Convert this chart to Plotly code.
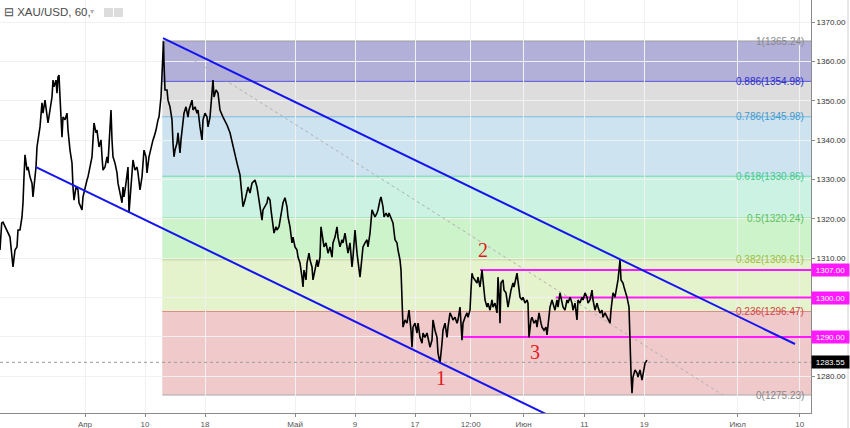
import plotly.graph_objects as go

# ---------------- data ----------------
# x = trading-day index (0 = 2 Apr), y = XAU/USD price
days = [-8.5,-8.33,-8.2,-7.8,-7.5,-7.3,-7.2,-7.0,-6.8,-6.7,-6.5,-6.3,-6.2,-6.1,-6.0,-5.8,-5.7,-5.5,-5.3,-5.2,
        -5.0,-4.9,-4.8,-4.7,-4.5,-4.3,-4.2,-4.0,-3.8,-3.7,-3.5,-3.3,-3.2,-3.1,-2.9,-2.8,-2.7,-2.6,-2.5,-2.4,
        -2.3,-2.2,-2.0,-1.8,-1.7,-1.5,-1.3,-1.2,-1.1,-0.9,-0.7,-0.6,-0.3,-0.2,0.0,0.2,0.3,0.5,0.7,0.8,
        0.9,1.1,1.2,1.4,1.6,1.7,1.8,2.0,2.2,2.3,2.5,2.6,2.7,2.8,3.0,3.2,3.3,3.5,3.7,3.8,
        3.9,4.1,4.3,4.4,4.5,4.7,4.8,5.0,5.2,5.3,5.5,5.7,5.9,6.1,6.2,6.4,6.6,6.8,6.9,7.1,
        7.3,7.4,7.6,7.7,7.8,7.85,7.9,8.0,8.2,8.3,8.5,8.7,8.8,8.9,9.0,9.2,9.3,9.5,9.6,9.8,
        9.9,10.1,10.3,10.4,10.7,10.8,11.0,11.2,11.3,11.5,11.7,11.8,12.0,12.2,12.3,12.5,12.7,12.8,12.9,13.1,
        13.3,13.5,13.8,14.2,14.5,14.8,15.2,15.5,15.7,15.8,16.0,16.2,16.3,16.5,16.7,17.0,17.2,17.4,17.7,17.8,
        18.0,18.2,18.3,18.5,18.6,18.8,18.9,19.1,19.2,19.4,19.6,19.8,20.0,20.2,20.3,20.5,20.7,20.8,21.0,21.2,
        21.3,21.5,21.7,21.8,21.9,22.1,22.2,22.4,22.5,22.7,22.8,23.0,23.2,23.3,23.5,23.6,23.8,23.9,24.1,24.3,
        24.5,24.7,24.8,25.0,25.2,25.3,25.5,25.7,25.8,26.0,26.2,26.3,26.5,26.7,26.8,27.0,27.2,27.3,27.5,27.7,
        27.8,28.0,28.2,28.3,28.5,28.7,28.8,29.0,29.2,29.3,29.5,29.6,29.8,29.9,30.1,30.3,30.4,30.7,30.8,31.0,
        31.2,31.3,31.5,31.6,31.7,31.75,31.8,32.0,32.2,32.3,32.4,32.6,32.7,32.8,33.0,33.2,33.3,33.5,33.7,33.8,
        34.0,34.2,34.3,34.5,34.7,34.8,35.0,35.2,35.3,35.5,35.7,35.8,36.0,36.2,36.3,36.5,36.7,36.8,37.0,37.2,
        37.3,37.5,37.7,37.8,38.0,38.2,38.3,38.5,38.6,38.7,38.8,39.0,39.2,39.3,39.5,39.7,39.8,39.9,40.0,40.2,
        40.3,40.5,40.7,40.8,41.0,41.2,41.3,41.4,41.5,41.6,41.8,41.9,42.1,42.3,42.4,42.6,42.8,42.9,43.2,43.3,
        43.5,43.7,43.8,44.0,44.2,44.3,44.4,44.6,44.7,44.9,45.1,45.2,45.4,45.6,45.7,45.9,46.1,46.2,46.3,46.5,
        46.7,46.8,47.0,47.2,47.3,47.5,47.7,47.8,48.0,48.2,48.3,48.5,48.7,48.8,49.0,49.2,49.3,49.5,49.7,49.8,
        50.0,50.2,50.3,50.5,50.7,50.8,51.0,51.2,51.3,51.5,51.7,51.8,52.0,52.2,52.3,52.5,52.6,52.7,52.8,53.0,
        53.2,53.3,53.4,53.5,53.6,53.8,53.9,54.1,54.2,54.4,54.45,54.5,54.6,54.7,54.8,55.0,55.2,55.3,55.5,55.7,
        55.8,56.0,56.2]
prices = [1312.1,1319.0,1319.2,1317.2,1315.4,1310.3,1307.8,1312.1,1312.9,1317.2,1317.2,1320.5,1324.1,1330.7,1336.3,1332.4,1333.2,1330.7,1329.1,1325.6,
          1330.7,1333.2,1338.3,1340.1,1343.4,1349.5,1346.9,1350.2,1346.9,1344.4,1347.7,1351.0,1355.3,1353.6,1355.3,1352.0,1356.1,1356.6,1351.0,1345.9,
          1340.8,1345.9,1345.2,1346.9,1342.6,1337.5,1334.2,1328.1,1324.8,1328.1,1327.4,1324.1,1322.3,1325.6,1328.1,1329.9,1330.7,1333.2,1335.8,1340.1,
          1344.4,1341.9,1342.6,1338.3,1340.1,1335.8,1332.4,1333.2,1335.8,1334.2,1342.6,1347.7,1340.1,1335.8,1334.2,1331.7,1329.1,1326.6,1324.1,1328.1,
          1325.6,1329.1,1333.2,1321.5,1325.6,1333.2,1335.0,1332.4,1333.2,1331.7,1327.4,1330.7,1337.5,1335.8,1331.7,1335.8,1338.3,1340.1,1340.8,1342.6,
          1345.2,1345.9,1351.0,1356.1,1363.0,1365.2,1359.6,1352.8,1352.8,1350.2,1348.5,1345.2,1339.3,1335.8,1337.5,1339.3,1341.9,1336.8,1340.1,1345.2,
          1346.9,1348.5,1345.9,1347.7,1350.2,1347.7,1348.5,1346.9,1347.7,1343.4,1340.1,1345.2,1346.9,1345.9,1343.4,1345.9,1352.8,1355.3,1351.0,1352.8,
          1352.0,1347.7,1345.9,1343.9,1341.9,1338.3,1334.2,1331.2,1326.1,1323.1,1324.8,1326.6,1328.1,1326.6,1329.1,1329.9,1328.1,1324.8,1319.7,1322.3,
          1323.1,1324.1,1325.6,1324.8,1322.3,1317.2,1316.4,1318.0,1317.2,1318.0,1321.5,1324.1,1325.4,1323.1,1320.5,1318.0,1313.9,1315.4,1312.9,1312.1,
          1310.3,1308.8,1305.2,1302.7,1307.0,1304.5,1308.8,1311.3,1309.6,1307.8,1304.5,1307.0,1309.6,1307.8,1310.3,1318.0,1314.7,1312.9,1313.9,1311.3,
          1312.9,1310.3,1313.9,1315.4,1318.0,1315.4,1312.9,1314.7,1313.9,1316.4,1312.9,1311.3,1313.9,1307.8,1310.3,1317.2,1311.3,1309.6,1305.2,1310.3,
          1312.9,1313.9,1314.7,1312.9,1316.4,1322.3,1321.5,1320.5,1321.5,1322.3,1324.8,1325.6,1323.1,1320.5,1321.5,1320.5,1321.5,1319.7,1319.0,1314.7,
          1313.9,1312.1,1309.6,1307.0,1301.9,1296.1,1292.5,1294.3,1293.5,1295.0,1296.8,1291.7,1287.4,1292.5,1293.5,1291.0,1293.5,1289.9,1288.4,1291.0,
          1289.9,1291.0,1289.9,1287.4,1289.2,1294.3,1291.7,1289.9,1285.9,1283.4,1288.4,1291.7,1293.5,1289.9,1292.5,1296.1,1295.0,1294.3,1295.0,1293.5,
          1294.3,1297.6,1289.2,1293.5,1295.0,1296.1,1295.0,1296.8,1301.9,1306.2,1305.2,1304.5,1303.7,1305.2,1302.7,1307.0,1304.5,1302.7,1299.4,1297.6,
          1298.6,1296.8,1299.4,1297.6,1298.6,1296.1,1305.2,1301.2,1293.5,1303.7,1304.5,1301.9,1301.2,1297.6,1299.4,1301.9,1303.7,1302.7,1306.2,1303.7,
          1300.1,1299.4,1300.1,1298.6,1299.4,1298.6,1289.9,1294.3,1295.0,1293.5,1294.3,1292.5,1296.1,1293.5,1292.5,1291.7,1292.5,1290.5,1292.5,1297.6,
          1299.4,1298.6,1296.8,1299.4,1297.6,1301.2,1298.6,1297.6,1296.8,1299.4,1298.6,1300.1,1298.6,1296.8,1298.6,1294.3,1299.4,1298.6,1300.1,1299.4,
          1301.2,1300.1,1298.6,1299.4,1301.9,1299.4,1296.8,1298.6,1297.6,1296.1,1296.8,1295.0,1296.1,1295.0,1294.3,1293.5,1296.8,1299.4,1301.2,1300.1,
          1302.7,1304.5,1307.0,1309.6,1304.5,1303.7,1302.7,1301.2,1300.1,1297.6,1291.0,1284.1,1280.8,1275.7,1279.8,1281.6,1280.8,1279.8,1281.6,1279.0,
          1280.8,1283.3,1284.1]

last_price = 1283.55

fib_ratios = ["1", "0.886", "0.786", "0.618", "0.5", "0.382", "0.236", "0"]
fib_prices = [1365.24, 1354.98, 1345.98, 1330.86, 1320.24, 1309.61, 1296.47, 1275.23]
fib_fill = ["#b2b0d9", "#dddddd", "#cde3f0", "#cbf2e2", "#cdf3cb", "#e5f3cc", "#f0c9cb"]
fib_line = ["#9a9a9a", "#5656dc", "#7ab8e0", "#6ad9a8", "#88d888", "#c0d890", "#e08a8a", "#a8a8a8"]
fib_text = ["#888888", "#2b2bc8", "#3f9bd0", "#3ec98c", "#5cc05c", "#9cc040", "#d04545", "#888888"]
fib_start = 7.73

upper_channel_x = [7.8, 71.0]
upper_channel_y = [1366.0, 1288.2]
lower_channel_x = [-4.9, 46.3]
lower_channel_y = [1333.2, 1270.15]
trend_x = [7.85, 63.8]
trend_y = [1365.24, 1275.23]

level_prices = [1307.00, 1300.00, 1290.00]
level_starts = [39.5, 47.07, 37.67]

wave_labels = ["1", "2", "3"]
wave_x = [35.6, 39.8, 45.0]
wave_y = [1279.6, 1312.1, 1286.2]

tick_vals = [0, 6, 12, 21, 27, 33, 38.57, 43.87, 49.93, 55.93, 65.27, 71.47]
tick_text = ["Апр", "10", "18", "Май", "9", "17", "12:00", "Июн", "11", "19", "Июл", "10"]

x_min, x_max = -8.5, 72.6
y_min, y_max = 1270.66, 1375.67

# ---------------- figure ----------------
fig = go.Figure()

shapes = []
for i in range(len(fib_fill)):
    shapes.append(dict(type="rect", xref="x", yref="y", x0=fib_start, x1=x_max,
                       y0=fib_prices[i + 1], y1=fib_prices[i], fillcolor=fib_fill[i],
                       line=dict(width=0), layer="below"))
for i, p in enumerate(fib_prices):
    shapes.append(dict(type="line", xref="x", yref="y", x0=fib_start, x1=x_max, y0=p, y1=p,
                       line=dict(color=fib_line[i], width=1), layer="below"))
# window border + title icons
shapes.append(dict(type="line", xref="paper", yref="paper", x0=848/811, x1=848/811, y0=-15/413, y1=1,
                   line=dict(color="#d0d0d0", width=1)))
for x0 in (104, 114):
    shapes.append(dict(type="rect", xref="paper", yref="paper", x0=x0/811, x1=(x0+9)/811,
                       y0=1-17/413, y1=1-8/413, fillcolor="#dcdcdc", line=dict(width=0)))

# last price line
fig.add_trace(go.Scatter(x=[x_min, x_max], y=[last_price, last_price], mode="lines",
                         line=dict(color="#999999", width=1, dash="dot"), hoverinfo="skip"))
# dotted trend line of fib
fig.add_trace(go.Scatter(x=trend_x, y=trend_y, mode="lines",
                         line=dict(color="#b0b0b0", width=1, dash="dot"), hoverinfo="skip"))
# magenta levels
for p, s in zip(level_prices, level_starts):
    fig.add_trace(go.Scatter(x=[s, x_max], y=[p, p], mode="lines",
                             line=dict(color="#ff19ff", width=2), hoverinfo="skip"))
# price
fig.add_trace(go.Scatter(x=days, y=prices, mode="lines",
                         line=dict(color="#000000", width=1.6), hoverinfo="skip"))
# channel
fig.add_trace(go.Scatter(x=upper_channel_x, y=upper_channel_y, mode="lines",
                         line=dict(color="#1414f0", width=2), hoverinfo="skip"))
fig.add_trace(go.Scatter(x=lower_channel_x, y=lower_channel_y, mode="lines",
                         line=dict(color="#1414f0", width=2), hoverinfo="skip"))

annotations = []
for r, p, c in zip(fib_ratios, fib_prices, fib_text):
    annotations.append(dict(x=72.1, y=p, xref="x", yref="y", xanchor="right", yanchor="middle",
                            text=f"{r}({p:.2f})", showarrow=False,
                            font=dict(family="Liberation Sans", size=10, color=c)))
for t, x, y in zip(wave_labels, wave_x, wave_y):
    annotations.append(dict(x=x, y=y, xref="x", yref="y", text=t, showarrow=False,
                            font=dict(family="Liberation Serif", size=20, color="#e3191b")))
for p in level_prices:
    annotations.append(dict(x=1, y=p, xref="paper", yref="y", xanchor="left", yanchor="middle",
                            text=f"{p:.2f}", showarrow=False, bgcolor="#ff19ff", width=35, height=10,
                            borderpad=1, align="center",
                            font=dict(family="Liberation Sans", size=8, color="#ffffff")))
annotations.append(dict(x=1, y=last_price, xref="paper", yref="y", xanchor="left", yanchor="middle",
                        text=f"{last_price:.2f}", showarrow=False, bgcolor="#000000", width=35, height=10,
                        borderpad=1, align="center",
                        font=dict(family="Liberation Sans", size=8, color="#ffffff")))
annotations.append(dict(x=2/811, y=1-12/413, xref="paper", yref="paper", xanchor="left", yanchor="middle",
                        text="⊟ XAU/USD, 60,", showarrow=False,
                        font=dict(family="Liberation Sans", size=11.5, color="#4a4a4a")))
annotations.append(dict(x=92/811, y=1-11/413, xref="paper", yref="paper", xanchor="center", yanchor="middle",
                        text="▾", showarrow=False,
                        font=dict(family="DejaVu Sans", size=8, color="#b0b0b0")))

fig.update_layout(
    width=850, height=428,
    margin=dict(l=0, r=39, t=0, b=15),
    paper_bgcolor="#ffffff", plot_bgcolor="#ffffff",
    showlegend=False,
    shapes=shapes, annotations=annotations,
    xaxis=dict(range=[x_min, x_max], tickmode="array", tickvals=tick_vals, ticktext=tick_text,
               showgrid=True, gridcolor="#f1f1f1", gridwidth=1, zeroline=False,
               showline=True, linecolor="#8a8a8a", linewidth=1,
               ticks="outside", ticklen=3, tickcolor="#8a8a8a",
               tickfont=dict(family="Liberation Sans", size=8, color="#555555")),
    yaxis=dict(range=[y_min, y_max], side="right", dtick=10, tick0=1270, tickformat=".2f",
               showgrid=True, gridcolor="#f1f1f1", gridwidth=1, zeroline=False,
               showline=True, linecolor="#8a8a8a", linewidth=1,
               ticks="outside", ticklen=3, tickcolor="#8a8a8a",
               tickfont=dict(family="Liberation Sans", size=8, color="#333333")),
)

fig.write_html("out.html", config={"displayModeBar": False},
               post_script="document.body.style.margin='0';document.body.style.overflow='hidden';")
